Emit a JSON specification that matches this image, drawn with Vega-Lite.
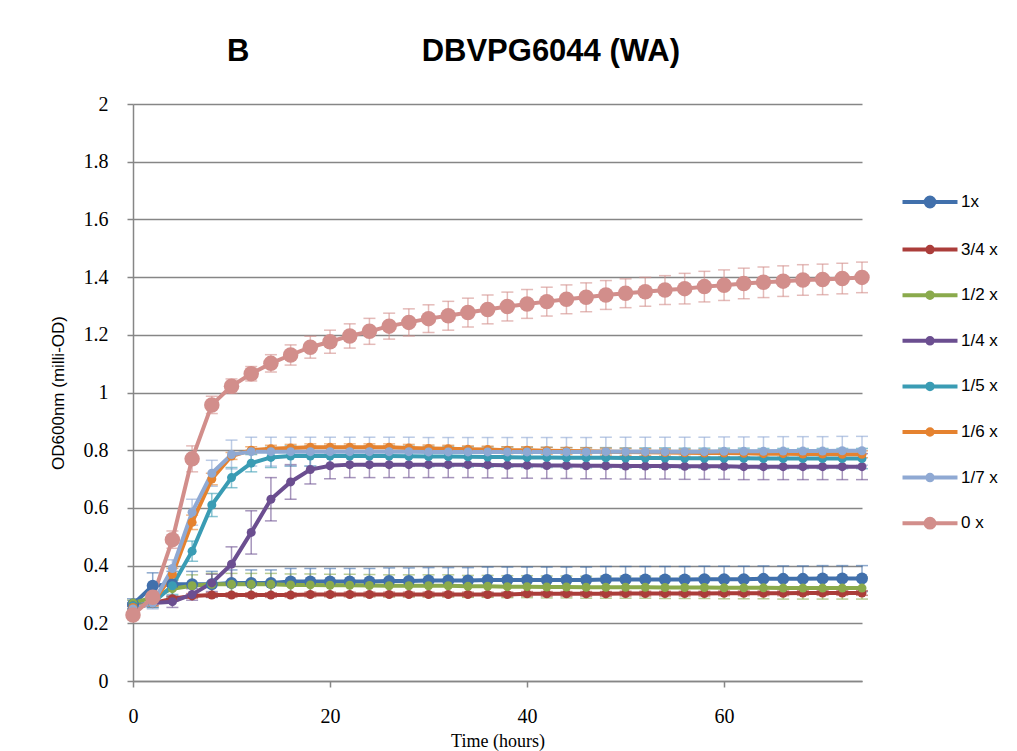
{
  "$schema": "https://vega.github.io/schema/vega-lite/v6.json",
  "width": 729,
  "height": 577,
  "autosize": {"type": "none"},
  "padding": {"left": 133, "top": 104, "right": 155, "bottom": 70},
  "background": "white",
  "config": {"view": {"stroke": null}},
  "title": {
    "text": "B\u00a0\u00a0\u00a0\u00a0\u00a0\u00a0\u00a0\u00a0\u00a0\u00a0\u00a0\u00a0\u00a0\u00a0\u00a0\u00a0\u00a0\u00a0\u00a0\u00a0DBVPG6044 (WA)",
    "anchor": "start",
    "frame": "group",
    "dx": 94,
    "offset": 26,
    "font": "Liberation Sans",
    "fontSize": 31,
    "fontWeight": "bold",
    "color": "black"
  },
  "data": {"values": [
    {"t":0,"s":"1x","v":0.265,"e":0.02},{"t":2,"s":"1x","v":0.33,"e":0.045},{"t":4,"s":"1x","v":0.335,"e":0.045},{"t":6,"s":"1x","v":0.335,"e":0.045},{"t":8,"s":"1x","v":0.335,"e":0.045},{"t":10,"s":"1x","v":0.34,"e":0.045},{"t":12,"s":"1x","v":0.34,"e":0.045},{"t":14,"s":"1x","v":0.34,"e":0.045},{"t":16,"s":"1x","v":0.345,"e":0.045},{"t":18,"s":"1x","v":0.345,"e":0.045},{"t":20,"s":"1x","v":0.345,"e":0.045},{"t":22,"s":"1x","v":0.345,"e":0.045},{"t":24,"s":"1x","v":0.345,"e":0.045},{"t":26,"s":"1x","v":0.347,"e":0.045},{"t":28,"s":"1x","v":0.347,"e":0.045},{"t":30,"s":"1x","v":0.348,"e":0.045},{"t":32,"s":"1x","v":0.348,"e":0.045},{"t":34,"s":"1x","v":0.348,"e":0.045},{"t":36,"s":"1x","v":0.35,"e":0.045},{"t":38,"s":"1x","v":0.35,"e":0.045},{"t":40,"s":"1x","v":0.35,"e":0.045},{"t":42,"s":"1x","v":0.35,"e":0.045},{"t":44,"s":"1x","v":0.35,"e":0.045},{"t":46,"s":"1x","v":0.35,"e":0.045},{"t":48,"s":"1x","v":0.352,"e":0.045},{"t":50,"s":"1x","v":0.352,"e":0.045},{"t":52,"s":"1x","v":0.352,"e":0.045},{"t":54,"s":"1x","v":0.352,"e":0.045},{"t":56,"s":"1x","v":0.352,"e":0.045},{"t":58,"s":"1x","v":0.353,"e":0.045},{"t":60,"s":"1x","v":0.353,"e":0.045},{"t":62,"s":"1x","v":0.353,"e":0.045},{"t":64,"s":"1x","v":0.354,"e":0.045},{"t":66,"s":"1x","v":0.354,"e":0.045},{"t":68,"s":"1x","v":0.354,"e":0.045},{"t":70,"s":"1x","v":0.355,"e":0.045},{"t":72,"s":"1x","v":0.355,"e":0.045},{"t":74,"s":"1x","v":0.355,"e":0.045},

    {"t":0,"s":"3/4 x","v":0.25,"e":0.008},{"t":2,"s":"3/4 x","v":0.27,"e":0.008},{"t":4,"s":"3/4 x","v":0.285,"e":0.008},{"t":6,"s":"3/4 x","v":0.295,"e":0.008},{"t":8,"s":"3/4 x","v":0.298,"e":0.008},{"t":10,"s":"3/4 x","v":0.298,"e":0.008},{"t":12,"s":"3/4 x","v":0.298,"e":0.008},{"t":14,"s":"3/4 x","v":0.298,"e":0.008},{"t":16,"s":"3/4 x","v":0.298,"e":0.008},{"t":18,"s":"3/4 x","v":0.3,"e":0.008},{"t":20,"s":"3/4 x","v":0.3,"e":0.008},{"t":22,"s":"3/4 x","v":0.3,"e":0.008},{"t":24,"s":"3/4 x","v":0.3,"e":0.008},{"t":26,"s":"3/4 x","v":0.3,"e":0.008},{"t":28,"s":"3/4 x","v":0.3,"e":0.008},{"t":30,"s":"3/4 x","v":0.3,"e":0.008},{"t":32,"s":"3/4 x","v":0.3,"e":0.008},{"t":34,"s":"3/4 x","v":0.3,"e":0.008},{"t":36,"s":"3/4 x","v":0.3,"e":0.008},{"t":38,"s":"3/4 x","v":0.3,"e":0.008},{"t":40,"s":"3/4 x","v":0.302,"e":0.008},{"t":42,"s":"3/4 x","v":0.302,"e":0.008},{"t":44,"s":"3/4 x","v":0.302,"e":0.008},{"t":46,"s":"3/4 x","v":0.302,"e":0.008},{"t":48,"s":"3/4 x","v":0.302,"e":0.008},{"t":50,"s":"3/4 x","v":0.303,"e":0.008},{"t":52,"s":"3/4 x","v":0.303,"e":0.008},{"t":54,"s":"3/4 x","v":0.303,"e":0.008},{"t":56,"s":"3/4 x","v":0.303,"e":0.008},{"t":58,"s":"3/4 x","v":0.303,"e":0.008},{"t":60,"s":"3/4 x","v":0.304,"e":0.008},{"t":62,"s":"3/4 x","v":0.304,"e":0.008},{"t":64,"s":"3/4 x","v":0.304,"e":0.008},{"t":66,"s":"3/4 x","v":0.304,"e":0.008},{"t":68,"s":"3/4 x","v":0.305,"e":0.008},{"t":70,"s":"3/4 x","v":0.305,"e":0.008},{"t":72,"s":"3/4 x","v":0.305,"e":0.008},{"t":74,"s":"3/4 x","v":0.305,"e":0.008},

    {"t":0,"s":"1/2 x","v":0.27,"e":0.01},{"t":2,"s":"1/2 x","v":0.29,"e":0.02},{"t":4,"s":"1/2 x","v":0.32,"e":0.03},{"t":6,"s":"1/2 x","v":0.33,"e":0.038},{"t":8,"s":"1/2 x","v":0.335,"e":0.038},{"t":10,"s":"1/2 x","v":0.335,"e":0.038},{"t":12,"s":"1/2 x","v":0.335,"e":0.038},{"t":14,"s":"1/2 x","v":0.335,"e":0.038},{"t":16,"s":"1/2 x","v":0.333,"e":0.038},{"t":18,"s":"1/2 x","v":0.333,"e":0.038},{"t":20,"s":"1/2 x","v":0.332,"e":0.038},{"t":22,"s":"1/2 x","v":0.332,"e":0.038},{"t":24,"s":"1/2 x","v":0.331,"e":0.038},{"t":26,"s":"1/2 x","v":0.33,"e":0.038},{"t":28,"s":"1/2 x","v":0.33,"e":0.038},{"t":30,"s":"1/2 x","v":0.33,"e":0.038},{"t":32,"s":"1/2 x","v":0.33,"e":0.038},{"t":34,"s":"1/2 x","v":0.328,"e":0.038},{"t":36,"s":"1/2 x","v":0.328,"e":0.038},{"t":38,"s":"1/2 x","v":0.327,"e":0.038},{"t":40,"s":"1/2 x","v":0.327,"e":0.038},{"t":42,"s":"1/2 x","v":0.326,"e":0.038},{"t":44,"s":"1/2 x","v":0.326,"e":0.038},{"t":46,"s":"1/2 x","v":0.325,"e":0.038},{"t":48,"s":"1/2 x","v":0.325,"e":0.038},{"t":50,"s":"1/2 x","v":0.325,"e":0.038},{"t":52,"s":"1/2 x","v":0.325,"e":0.038},{"t":54,"s":"1/2 x","v":0.324,"e":0.038},{"t":56,"s":"1/2 x","v":0.324,"e":0.038},{"t":58,"s":"1/2 x","v":0.324,"e":0.038},{"t":60,"s":"1/2 x","v":0.323,"e":0.038},{"t":62,"s":"1/2 x","v":0.323,"e":0.038},{"t":64,"s":"1/2 x","v":0.323,"e":0.038},{"t":66,"s":"1/2 x","v":0.322,"e":0.038},{"t":68,"s":"1/2 x","v":0.322,"e":0.038},{"t":70,"s":"1/2 x","v":0.322,"e":0.038},{"t":72,"s":"1/2 x","v":0.322,"e":0.038},{"t":74,"s":"1/2 x","v":0.322,"e":0.038},

    {"t":0,"s":"1/4 x","v":0.26,"e":0.01},{"t":2,"s":"1/4 x","v":0.27,"e":0.015},{"t":4,"s":"1/4 x","v":0.275,"e":0.02},{"t":6,"s":"1/4 x","v":0.3,"e":0.02},{"t":8,"s":"1/4 x","v":0.34,"e":0.03},{"t":10,"s":"1/4 x","v":0.405,"e":0.06},{"t":12,"s":"1/4 x","v":0.515,"e":0.075},{"t":14,"s":"1/4 x","v":0.63,"e":0.075},{"t":16,"s":"1/4 x","v":0.69,"e":0.06},{"t":18,"s":"1/4 x","v":0.733,"e":0.05},{"t":20,"s":"1/4 x","v":0.746,"e":0.045},{"t":22,"s":"1/4 x","v":0.75,"e":0.045},{"t":24,"s":"1/4 x","v":0.75,"e":0.045},{"t":26,"s":"1/4 x","v":0.75,"e":0.045},{"t":28,"s":"1/4 x","v":0.75,"e":0.045},{"t":30,"s":"1/4 x","v":0.75,"e":0.045},{"t":32,"s":"1/4 x","v":0.75,"e":0.045},{"t":34,"s":"1/4 x","v":0.75,"e":0.045},{"t":36,"s":"1/4 x","v":0.749,"e":0.045},{"t":38,"s":"1/4 x","v":0.748,"e":0.045},{"t":40,"s":"1/4 x","v":0.748,"e":0.045},{"t":42,"s":"1/4 x","v":0.747,"e":0.045},{"t":44,"s":"1/4 x","v":0.747,"e":0.045},{"t":46,"s":"1/4 x","v":0.746,"e":0.045},{"t":48,"s":"1/4 x","v":0.746,"e":0.045},{"t":50,"s":"1/4 x","v":0.745,"e":0.045},{"t":52,"s":"1/4 x","v":0.745,"e":0.045},{"t":54,"s":"1/4 x","v":0.745,"e":0.045},{"t":56,"s":"1/4 x","v":0.744,"e":0.045},{"t":58,"s":"1/4 x","v":0.744,"e":0.045},{"t":60,"s":"1/4 x","v":0.744,"e":0.045},{"t":62,"s":"1/4 x","v":0.743,"e":0.045},{"t":64,"s":"1/4 x","v":0.743,"e":0.045},{"t":66,"s":"1/4 x","v":0.743,"e":0.045},{"t":68,"s":"1/4 x","v":0.743,"e":0.045},{"t":70,"s":"1/4 x","v":0.743,"e":0.045},{"t":72,"s":"1/4 x","v":0.743,"e":0.045},{"t":74,"s":"1/4 x","v":0.743,"e":0.045},

    {"t":0,"s":"1/5 x","v":0.26,"e":0.01},{"t":2,"s":"1/5 x","v":0.27,"e":0.015},{"t":4,"s":"1/5 x","v":0.33,"e":0.03},{"t":6,"s":"1/5 x","v":0.45,"e":0.035},{"t":8,"s":"1/5 x","v":0.61,"e":0.04},{"t":10,"s":"1/5 x","v":0.705,"e":0.035},{"t":12,"s":"1/5 x","v":0.755,"e":0.03},{"t":14,"s":"1/5 x","v":0.775,"e":0.035},{"t":16,"s":"1/5 x","v":0.78,"e":0.035},{"t":18,"s":"1/5 x","v":0.78,"e":0.035},{"t":20,"s":"1/5 x","v":0.78,"e":0.035},{"t":22,"s":"1/5 x","v":0.78,"e":0.035},{"t":24,"s":"1/5 x","v":0.78,"e":0.035},{"t":26,"s":"1/5 x","v":0.78,"e":0.035},{"t":28,"s":"1/5 x","v":0.779,"e":0.035},{"t":30,"s":"1/5 x","v":0.778,"e":0.035},{"t":32,"s":"1/5 x","v":0.778,"e":0.035},{"t":34,"s":"1/5 x","v":0.777,"e":0.035},{"t":36,"s":"1/5 x","v":0.776,"e":0.035},{"t":38,"s":"1/5 x","v":0.776,"e":0.035},{"t":40,"s":"1/5 x","v":0.775,"e":0.035},{"t":42,"s":"1/5 x","v":0.775,"e":0.035},{"t":44,"s":"1/5 x","v":0.774,"e":0.035},{"t":46,"s":"1/5 x","v":0.774,"e":0.035},{"t":48,"s":"1/5 x","v":0.774,"e":0.035},{"t":50,"s":"1/5 x","v":0.773,"e":0.035},{"t":52,"s":"1/5 x","v":0.773,"e":0.035},{"t":54,"s":"1/5 x","v":0.773,"e":0.035},{"t":56,"s":"1/5 x","v":0.772,"e":0.035},{"t":58,"s":"1/5 x","v":0.772,"e":0.035},{"t":60,"s":"1/5 x","v":0.772,"e":0.035},{"t":62,"s":"1/5 x","v":0.772,"e":0.035},{"t":64,"s":"1/5 x","v":0.771,"e":0.035},{"t":66,"s":"1/5 x","v":0.771,"e":0.035},{"t":68,"s":"1/5 x","v":0.771,"e":0.035},{"t":70,"s":"1/5 x","v":0.771,"e":0.035},{"t":72,"s":"1/5 x","v":0.771,"e":0.035},{"t":74,"s":"1/5 x","v":0.771,"e":0.035},

    {"t":0,"s":"1/6 x","v":0.255,"e":0.01},{"t":2,"s":"1/6 x","v":0.27,"e":0.01},{"t":4,"s":"1/6 x","v":0.37,"e":0.02},{"t":6,"s":"1/6 x","v":0.55,"e":0.025},{"t":8,"s":"1/6 x","v":0.7,"e":0.02},{"t":10,"s":"1/6 x","v":0.78,"e":0.012},{"t":12,"s":"1/6 x","v":0.8,"e":0.012},{"t":14,"s":"1/6 x","v":0.805,"e":0.012},{"t":16,"s":"1/6 x","v":0.808,"e":0.012},{"t":18,"s":"1/6 x","v":0.81,"e":0.012},{"t":20,"s":"1/6 x","v":0.81,"e":0.012},{"t":22,"s":"1/6 x","v":0.81,"e":0.012},{"t":24,"s":"1/6 x","v":0.81,"e":0.012},{"t":26,"s":"1/6 x","v":0.81,"e":0.012},{"t":28,"s":"1/6 x","v":0.808,"e":0.012},{"t":30,"s":"1/6 x","v":0.806,"e":0.012},{"t":32,"s":"1/6 x","v":0.805,"e":0.012},{"t":34,"s":"1/6 x","v":0.803,"e":0.012},{"t":36,"s":"1/6 x","v":0.802,"e":0.012},{"t":38,"s":"1/6 x","v":0.8,"e":0.012},{"t":40,"s":"1/6 x","v":0.8,"e":0.012},{"t":42,"s":"1/6 x","v":0.798,"e":0.012},{"t":44,"s":"1/6 x","v":0.797,"e":0.012},{"t":46,"s":"1/6 x","v":0.796,"e":0.012},{"t":48,"s":"1/6 x","v":0.795,"e":0.012},{"t":50,"s":"1/6 x","v":0.794,"e":0.012},{"t":52,"s":"1/6 x","v":0.793,"e":0.012},{"t":54,"s":"1/6 x","v":0.792,"e":0.012},{"t":56,"s":"1/6 x","v":0.791,"e":0.012},{"t":58,"s":"1/6 x","v":0.79,"e":0.012},{"t":60,"s":"1/6 x","v":0.79,"e":0.012},{"t":62,"s":"1/6 x","v":0.789,"e":0.012},{"t":64,"s":"1/6 x","v":0.788,"e":0.012},{"t":66,"s":"1/6 x","v":0.788,"e":0.012},{"t":68,"s":"1/6 x","v":0.787,"e":0.012},{"t":70,"s":"1/6 x","v":0.787,"e":0.012},{"t":72,"s":"1/6 x","v":0.786,"e":0.012},{"t":74,"s":"1/6 x","v":0.786,"e":0.012},

    {"t":0,"s":"1/7 x","v":0.25,"e":0.01},{"t":2,"s":"1/7 x","v":0.27,"e":0.02},{"t":4,"s":"1/7 x","v":0.39,"e":0.03},{"t":6,"s":"1/7 x","v":0.585,"e":0.045},{"t":8,"s":"1/7 x","v":0.72,"e":0.045},{"t":10,"s":"1/7 x","v":0.785,"e":0.05},{"t":12,"s":"1/7 x","v":0.795,"e":0.05},{"t":14,"s":"1/7 x","v":0.795,"e":0.05},{"t":16,"s":"1/7 x","v":0.795,"e":0.05},{"t":18,"s":"1/7 x","v":0.795,"e":0.05},{"t":20,"s":"1/7 x","v":0.795,"e":0.05},{"t":22,"s":"1/7 x","v":0.795,"e":0.05},{"t":24,"s":"1/7 x","v":0.795,"e":0.05},{"t":26,"s":"1/7 x","v":0.795,"e":0.05},{"t":28,"s":"1/7 x","v":0.795,"e":0.05},{"t":30,"s":"1/7 x","v":0.794,"e":0.05},{"t":32,"s":"1/7 x","v":0.794,"e":0.05},{"t":34,"s":"1/7 x","v":0.794,"e":0.05},{"t":36,"s":"1/7 x","v":0.794,"e":0.05},{"t":38,"s":"1/7 x","v":0.794,"e":0.05},{"t":40,"s":"1/7 x","v":0.794,"e":0.05},{"t":42,"s":"1/7 x","v":0.794,"e":0.05},{"t":44,"s":"1/7 x","v":0.794,"e":0.05},{"t":46,"s":"1/7 x","v":0.794,"e":0.05},{"t":48,"s":"1/7 x","v":0.795,"e":0.05},{"t":50,"s":"1/7 x","v":0.795,"e":0.05},{"t":52,"s":"1/7 x","v":0.795,"e":0.05},{"t":54,"s":"1/7 x","v":0.795,"e":0.05},{"t":56,"s":"1/7 x","v":0.795,"e":0.05},{"t":58,"s":"1/7 x","v":0.795,"e":0.05},{"t":60,"s":"1/7 x","v":0.796,"e":0.05},{"t":62,"s":"1/7 x","v":0.796,"e":0.05},{"t":64,"s":"1/7 x","v":0.796,"e":0.05},{"t":66,"s":"1/7 x","v":0.797,"e":0.05},{"t":68,"s":"1/7 x","v":0.797,"e":0.05},{"t":70,"s":"1/7 x","v":0.797,"e":0.05},{"t":72,"s":"1/7 x","v":0.798,"e":0.05},{"t":74,"s":"1/7 x","v":0.798,"e":0.05},

    {"t":0,"s":"0 x","v":0.229,"e":0.01},{"t":2,"s":"0 x","v":0.29,"e":0.02},{"t":4,"s":"0 x","v":0.49,"e":0.03},{"t":6,"s":"0 x","v":0.77,"e":0.045},{"t":8,"s":"0 x","v":0.957,"e":0.03},{"t":10,"s":"0 x","v":1.022,"e":0.025},{"t":12,"s":"0 x","v":1.065,"e":0.025},{"t":14,"s":"0 x","v":1.101,"e":0.03},{"t":16,"s":"0 x","v":1.13,"e":0.035},{"t":18,"s":"0 x","v":1.157,"e":0.038},{"t":20,"s":"0 x","v":1.176,"e":0.04},{"t":22,"s":"0 x","v":1.196,"e":0.042},{"t":24,"s":"0 x","v":1.212,"e":0.045},{"t":26,"s":"0 x","v":1.23,"e":0.045},{"t":28,"s":"0 x","v":1.243,"e":0.047},{"t":30,"s":"0 x","v":1.256,"e":0.048},{"t":32,"s":"0 x","v":1.266,"e":0.05},{"t":34,"s":"0 x","v":1.277,"e":0.05},{"t":36,"s":"0 x","v":1.288,"e":0.05},{"t":38,"s":"0 x","v":1.298,"e":0.05},{"t":40,"s":"0 x","v":1.307,"e":0.05},{"t":42,"s":"0 x","v":1.315,"e":0.05},{"t":44,"s":"0 x","v":1.323,"e":0.05},{"t":46,"s":"0 x","v":1.33,"e":0.05},{"t":48,"s":"0 x","v":1.338,"e":0.05},{"t":50,"s":"0 x","v":1.344,"e":0.05},{"t":52,"s":"0 x","v":1.349,"e":0.05},{"t":54,"s":"0 x","v":1.355,"e":0.05},{"t":56,"s":"0 x","v":1.36,"e":0.053},{"t":58,"s":"0 x","v":1.367,"e":0.053},{"t":60,"s":"0 x","v":1.372,"e":0.053},{"t":62,"s":"0 x","v":1.378,"e":0.053},{"t":64,"s":"0 x","v":1.382,"e":0.053},{"t":66,"s":"0 x","v":1.386,"e":0.053},{"t":68,"s":"0 x","v":1.39,"e":0.053},{"t":70,"s":"0 x","v":1.392,"e":0.053},{"t":72,"s":"0 x","v":1.395,"e":0.053},{"t":74,"s":"0 x","v":1.399,"e":0.053}
  ]},
  "encoding": {
    "x": {
      "field": "t", "type": "quantitative",
      "scale": {"domain": [0, 74], "nice": false, "zero": false},
      "axis": {
        "values": [0, 20, 40, 60], "grid": false, "labelFlush": false,
        "domainColor": "#868686", "domainWidth": 1.5,
        "tickColor": "#868686", "tickWidth": 1.5, "tickSize": 6,
        "labelFont": "Liberation Serif", "labelFontSize": 20, "labelColor": "black", "labelPadding": 19,
        "title": "Time (hours)", "titleFont": "Liberation Serif", "titleFontSize": 18, "titleFontWeight": "normal", "titleColor": "black", "titlePadding": 6
      }
    },
    "y": {
      "field": "v", "type": "quantitative",
      "scale": {"domain": [0, 2], "nice": false},
      "axis": {
        "values": [0, 0.2, 0.4, 0.6, 0.8, 1, 1.2, 1.4, 1.6, 1.8, 2],
        "format": "~g",
        "grid": true, "gridColor": "#868686", "gridWidth": 1.5,
        "domainColor": "#868686", "domainWidth": 1.5,
        "tickColor": "#868686", "tickWidth": 1.5, "tickSize": 6,
        "labelFont": "Liberation Serif", "labelFontSize": 20, "labelColor": "black", "labelPadding": 19,
        "title": "OD600nm (milli-OD)", "titleFont": "Liberation Sans", "titleFontSize": 17, "titleFontWeight": "normal", "titleColor": "black", "titlePadding": 16
      }
    },
    "color": {
      "field": "s", "type": "nominal",
      "scale": {
        "domain": ["1x", "3/4 x", "1/2 x", "1/4 x", "1/5 x", "1/6 x", "1/7 x", "0 x"],
        "range": ["#4170ac", "#ab3d3a", "#8aaa4c", "#6b4e90", "#3a9cb4", "#e5822f", "#8fa9d3", "#d28e8b"]
      },
      "legend": {
        "title": null,
        "orient": "none",
        "legendX": 781,
        "legendY": 82,
        "padding": 0,
        "symbolType": "M -2 0 L 2 0",
        "symbolSize": 756,
        "symbolStrokeWidth": 4,
        "rowPadding": 18.6,
        "labelOffset": 15,
        "labelFont": "Liberation Sans",
        "labelFontSize": 17,
        "labelColor": "black",
        "encode": {
          "symbols": {
            "update": {
              "shape": {"signal": "(datum.value === '1x' || datum.value === '0 x') ? 'M -2 0 L 2 0 M -0.32 0 A 0.32 0.32 0 1 1 0.32 0 A 0.32 0.32 0 1 1 -0.32 0 Z' : 'M -2 0 L 2 0 M -0.2 0 A 0.2 0.2 0 1 1 0.2 0 A 0.2 0.2 0 1 1 -0.2 0 Z'"},
              "fill": {"scale": "color", "field": "value"},
              "stroke": {"scale": "color", "field": "value"},
              "strokeWidth": {"value": 4},
              "opacity": {"value": 1}
            }
          }
        }
      }
    }
  },
  "layer": [
    {
      "mark": {"type": "errorbar", "ticks": {"size": 12}, "thickness": 1.5, "opacity": 0.6},
      "encoding": {
        "yError": {"field": "e"}
      }
    },
    {
      "mark": {"type": "line", "strokeWidth": 4},
      "encoding": {}
    },
    {
      "mark": {"type": "point", "filled": true, "shape": "circle", "opacity": 1},
      "encoding": {
        "size": {
          "condition": [
            {"test": "datum.s === '0 x'", "value": 240},
            {"test": "datum.s === '1x'", "value": 144}
          ],
          "value": 81
        }
      }
    }
  ]
}
